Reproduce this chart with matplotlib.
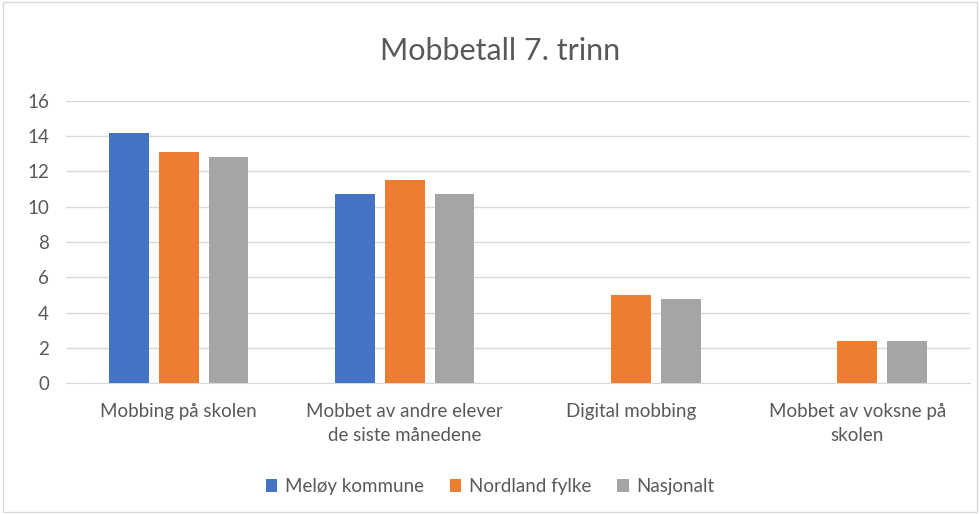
import numpy as np
import matplotlib.pyplot as plt
from matplotlib.patches import Rectangle

# data
categories = ['Mobbing på skolen', 'Mobbet av andre elever\nde siste månedene',
              'Digital mobbing', 'Mobbet av voksne på\nskolen']
series_names = ['Meløy kommune', 'Nordland fylke', 'Nasjonalt']
meloy = [14.2, 10.7, np.nan, np.nan]
nordland = [13.1, 11.5, 5.0, 2.4]
nasjonalt = [12.8, 10.7, 4.8, 2.4]
yticks = [0, 2, 4, 6, 8, 10, 12, 14, 16]

colors = ['#4472C4', '#ED7D31', '#A5A5A5']
text_color = '#595959'

plt.rcParams['font.family'] = ['Lato', 'DejaVu Sans']

fig = plt.figure(figsize=(9.8, 5.14), dpi=100)
fig.patches.append(Rectangle((0.003, 0.003), 0.994, 0.994, transform=fig.transFigure,
                             fill=False, edgecolor='#D9D9D9', linewidth=1))
ax = fig.add_axes([0.067, 0.2543, 0.923, 0.5497])

x = np.arange(len(categories))
width = 0.175
step = 0.22
for i, (vals, name) in enumerate(zip([meloy, nordland, nasjonalt], series_names)):
    ax.bar(x + (i - 1) * step, vals, width, color=colors[i], label=name, zorder=3)

ax.set_xlim(-0.5, len(categories) - 0.5)
ax.set_ylim(0, 16)
ax.set_yticks(yticks)
ax.yaxis.grid(True, color='#D9D9D9', linewidth=1, zorder=0)
for s in ['top', 'right', 'left']:
    ax.spines[s].set_visible(False)
ax.spines['bottom'].set_color('#D9D9D9')
ax.tick_params(axis='both', length=0, colors=text_color, labelsize=13.5)
ax.tick_params(axis='y', pad=12)
ax.tick_params(axis='x', pad=14)
ax.set_xticks(x)
ax.set_xticklabels(categories, linespacing=1.55)

fig.text(0.51, 0.9, 'Mobbetall 7. trinn', ha='center', va='center',
         fontsize=22, color=text_color)

ax.legend(loc='center', bbox_to_anchor=(0.5, 0.053), bbox_transform=fig.transFigure,
          ncol=3, frameon=False, fontsize=13.5, labelcolor=text_color,
          handlelength=0.6, handleheight=0.7, handletextpad=0.4, columnspacing=1.4)

fig.savefig('out.png', dpi=100)
